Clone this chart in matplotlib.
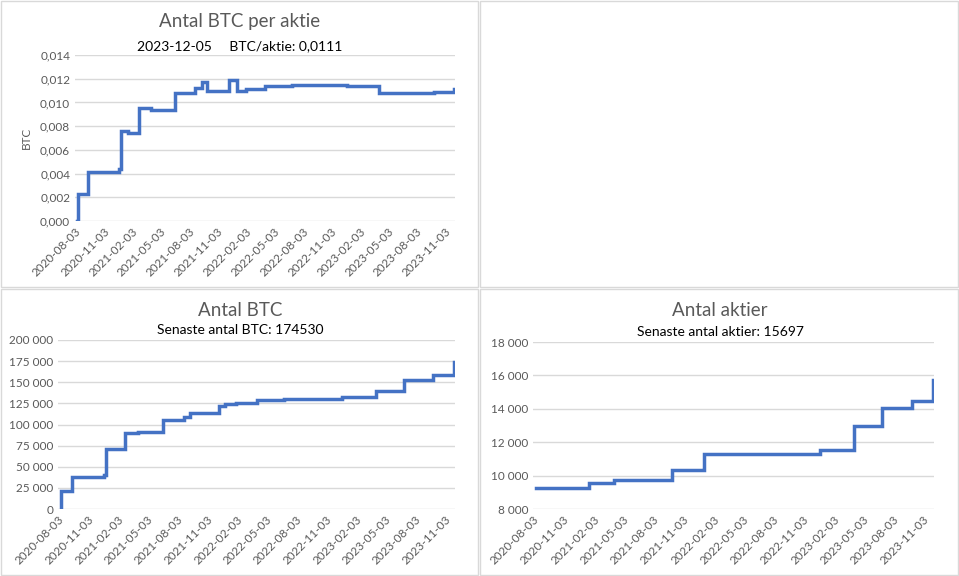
import matplotlib
matplotlib.use("Agg")
import matplotlib.pyplot as plt
import matplotlib.dates as mdates
import matplotlib.ticker as mticker
from matplotlib.patches import Rectangle
import pandas as pd

plt.rcParams["font.family"] = ["Lato", "DejaVu Sans"]

dates = pd.to_datetime([
    "2020-08-11", "2020-08-13", "2020-09-14", "2020-12-21", "2020-12-28",
    "2021-01-20", "2021-02-24", "2021-04-05", "2021-06-21", "2021-08-24",
    "2021-09-13", "2021-10-01", "2021-12-09", "2021-12-30", "2022-01-05",
    "2022-02-01", "2022-04-05", "2022-06-29", "2022-12-22", "2023-04-05",
    "2023-07-01", "2023-09-28", "2023-12-01", "2023-12-05",
])
btc = [0, 21454, 38250, 40824, 70784,
       70784, 90531, 91579, 105085, 108992,
       114042, 114042, 122478, 124391, 124391,
       125051, 129218, 129699, 132395, 140000,
       152333, 158245, 174530, 174530]
shares = [9260, 9260, 9260, 9260, 9260,
          9550, 9550, 9740, 9740, 9740,
          9740, 10330, 10330, 10330, 11300,
          11300, 11300, 11300, 11530, 12960,
          14050, 14450, 15697, 15697]
btc_per_share = [0.0, 0.0023, 0.0041, 0.0044, 0.0076,
                 0.0074, 0.0095, 0.0094, 0.0108, 0.0112,
                 0.0117, 0.0110, 0.0119, 0.0119, 0.0110,
                 0.0111, 0.0114, 0.0115, 0.0114, 0.0108,
                 0.0108, 0.0109, 0.0111, 0.0111]
tick_dates = pd.date_range("2020-08-01", "2023-11-01", freq="3MS") + pd.Timedelta(days=2)

GREY = "#595959"
BLUE = "#4472C4"
W, H = 959, 576

fig = plt.figure(figsize=(W / 100, H / 100), dpi=100)

# panel borders
for x0, y0, x1, y1 in [(1, 1, 478, 287), (480, 1, 958, 287), (1, 289, 478, 575), (480, 289, 958, 575)]:
    fig.patches.append(Rectangle((x0 / W, 1 - y1 / H), (x1 - x0) / W, (y1 - y0) / H,
                                 transform=fig.transFigure, fill=False, ec="#d9d9d9", lw=1))


def make_panel(rect, y, ylim, step, fmt, title, subtitle, title_xy, sub_y):
    ax = fig.add_axes([rect[0] / W, 1 - rect[3] / H, (rect[2] - rect[0]) / W, (rect[3] - rect[1]) / H])
    ax.step(dates, y, where="post", color=BLUE, lw=2.5, solid_joinstyle="miter")
    ax.set_xlim(pd.Timestamp("2020-08-03"), pd.Timestamp("2023-12-05"))
    ax.set_ylim(*ylim)
    ax.yaxis.set_major_locator(mticker.MultipleLocator(step))
    ax.yaxis.set_major_formatter(mticker.FuncFormatter(fmt))
    ax.set_xticks(tick_dates)
    ax.xaxis.set_major_formatter(mdates.DateFormatter("%Y-%m-%d"))
    ax.grid(axis="y", color="#d9d9d9", lw=1)
    ax.set_axisbelow(True)
    for s in ax.spines.values():
        s.set_visible(False)
    ax.tick_params(length=0, colors=GREY, labelsize=8.5)
    plt.setp(ax.get_xticklabels(), rotation=45, ha="right", rotation_mode="anchor")
    fig.text(title_xy[0] / W, 1 - title_xy[1] / H, title, ha="center", va="center", fontsize=13.5, color=GREY)
    fig.text(title_xy[0] / W, 1 - sub_y / H, subtitle, ha="center", va="center", fontsize=10, color="black")
    return ax


def dec_fmt(v, _):
    return f"{v:.3f}".replace(".", ",")


def thou_fmt(v, _):
    return f"{int(round(v)):,}".replace(",", " ")


ax1 = make_panel((75, 55, 455, 221), btc_per_share, (0, 0.014), 0.002, dec_fmt,
                 "Antal BTC per aktie", "2023-12-05     BTC/aktie: 0,0111", (240, 22), 46)
ax1.set_ylabel("BTC", color=GREY, fontsize=8.5, labelpad=6)

make_panel((58, 340, 455, 509), btc, (0, 200000), 25000, thou_fmt,
           "Antal BTC", "Senaste antal BTC: 174530", (240, 310), 330)
make_panel((533, 342, 934, 509), shares, (8000, 18000), 2000, thou_fmt,
           "Antal aktier", "Senaste antal aktier: 15697", (720, 310), 332)

fig.savefig("out.png", dpi=100)
